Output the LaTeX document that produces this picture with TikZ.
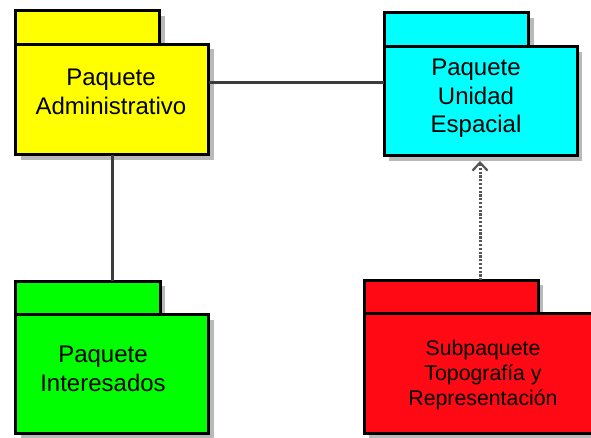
\documentclass[tikz,border=0pt]{standalone}
\usepackage{fontspec}
\setmainfont{Liberation Sans}
\usetikzlibrary{arrows.meta,shadows}
\definecolor{pkY}{RGB}{255,255,0}
\definecolor{pkC}{RGB}{0,255,255}
\definecolor{pkG}{RGB}{0,255,0}
\definecolor{pkR}{RGB}{255,10,20}
\definecolor{lnC}{RGB}{60,60,60}
\definecolor{depC}{RGB}{85,85,85}
\newcommand\pktext[3]{\fontsize{#1}{#2}\selectfont\begin{tabular}[t]{@{}c@{}}#3\end{tabular}}
\begin{document}
\begin{tikzpicture}[x=1pt,y=-1pt,
  pk/.style={draw=black, line width=3pt, inner sep=0pt, outer sep=0pt,
    drop shadow={shadow xshift=5pt, shadow yshift=-5pt, fill=gray!55, opacity=1}},
  pklabel/.style={inner sep=0pt, text=black, anchor=base},
  conn/.style={draw=lnC, line width=2.5pt},
  dep/.style={draw=depC, line width=3pt, dash pattern=on 2.2pt off 1.6pt,
    -{Straight Barb[length=8pt,width=15pt,line width=2.2pt]}}]
\clip (0,0) rectangle (591,438);
\fill[white] (0,0) rectangle (591,438);
% yellow package
\node[pk, fill=pkY, minimum width=143.8pt, minimum height=33.6pt] (tabA) at (87.6,27.5) {};
\node[pk, fill=pkY, minimum width=192.8pt, minimum height=110.4pt] (adm) at (112.1,99.5) {};
\node[pklabel] (admT) at (111,86) {\pktext{24}{29}{Paquete\\Administrativo}};
% cyan package
\node[pk, fill=pkC, minimum width=144.4pt, minimum height=34pt] (tabU) at (456.5,29.7) {};
\node[pk, fill=pkC, minimum width=192.7pt, minimum height=109.3pt] (uni) at (480.65,101.35) {};
\node[pklabel] (uniT) at (476,75.7) {\pktext{24}{28.5}{Paquete\\Unidad\\Espacial}};
% green package
\node[pk, fill=pkG, minimum width=144.6pt, minimum height=33.7pt] (tabI) at (88,297.85) {};
\node[pk, fill=pkG, minimum width=193pt, minimum height=118.3pt] (int) at (112.2,373.85) {};
\node[pklabel] (intT) at (103,362) {\pktext{24}{29}{Paquete\\Interesados}};
% red package
\node[pk, fill=pkR, minimum width=173.7pt, minimum height=33.4pt] (tabT) at (451.15,297) {};
\node[pk, fill=pkR, minimum width=230.7pt, minimum height=120pt] (top) at (479.65,373.7) {};
\node[pklabel] (topT) at (483,355) {\pktext{21.3}{25}{Subpaquete\\Topografía y\\Representación}};
% connectors
\coordinate (hl) at (300,82.3);
\coordinate (vl) at (112.5,220);
\coordinate (av) at (480,220);
\draw[conn] (adm.east |- hl) -- (uni.west |- hl);
\draw[conn] (adm.south -| vl) -- (tabI.north -| vl);
\draw[dep, shorten >=5pt] (tabT.north -| av) -- (uni.south -| av);
\end{tikzpicture}
\end{document}
